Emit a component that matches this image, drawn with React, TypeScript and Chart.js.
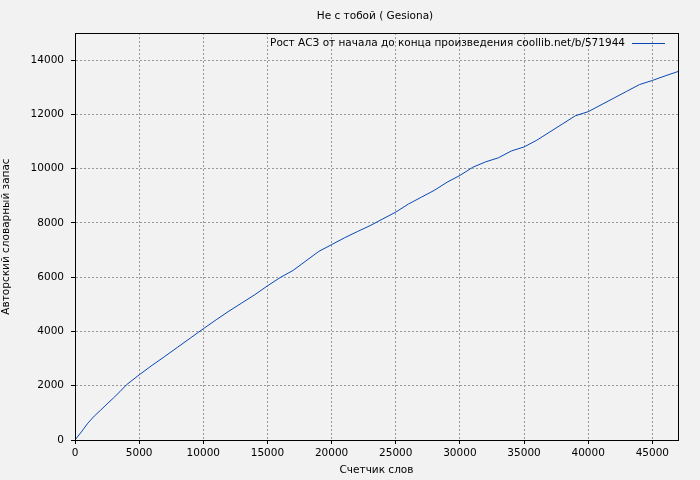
import React, { useEffect, useRef } from "react";
import { Chart, registerables } from "chart.js";

Chart.register(...registerables);

const TITLE = "Не с тобой ( Gesiona)";
const LEGEND = "Рост АСЗ от начала до конца произведения coollib.net/b/571944";
const X_TITLE = "Счетчик слов";
const Y_TITLE = "Авторский словарный запас";

const words = [0, 500, 1000, 1500, 2000, 2500, 3000, 3500, 4000, 5000, 6000, 7000, 8000, 9000, 10000, 11000, 12000, 13000, 14000, 15000, 16000, 17000, 18000, 19000, 20000, 21000, 22000, 23000, 24000, 25000, 26000, 27000, 28000, 29000, 30000, 31000, 32000, 33000, 34000, 35000, 36000, 37000, 38000, 39000, 40000, 41000, 42000, 43000, 44000, 45000, 46000, 47000];
const vocab = [0, 300, 620, 880, 1100, 1330, 1550, 1780, 2030, 2400, 2750, 3080, 3420, 3760, 4100, 4430, 4750, 5050, 5350, 5680, 5990, 6250, 6600, 6950, 7200, 7450, 7680, 7900, 8150, 8400, 8700, 8950, 9200, 9500, 9750, 10050, 10250, 10400, 10650, 10800, 11050, 11350, 11650, 11950, 12100, 12350, 12600, 12850, 13100, 13250, 13420, 13580];

const xTicks = [0, 5000, 10000, 15000, 20000, 25000, 30000, 35000, 40000, 45000];
const yTicks = [0, 2000, 4000, 6000, 8000, 10000, 12000, 14000];

const FONT = "DejaVu Sans";
const LINE_COLOR = "#0a47b5";

export default function App() {
  const ref = useRef<HTMLCanvasElement>(null);
  useEffect(() => {
    document.body.style.margin = "0";
    document.body.style.background = "#f2f2f2";
    const extras = {
      id: "extras",
      beforeDraw(chart: any) {
        const ctx = chart.ctx;
        ctx.save();
        ctx.fillStyle = "#f2f2f2";
        ctx.fillRect(0, 0, chart.width, chart.height);
        ctx.restore();
      },
      afterDraw(chart: any) {
        const ctx = chart.ctx;
        const a = chart.chartArea;
        ctx.save();
        ctx.strokeStyle = "#000";
        ctx.lineWidth = 1;
        ctx.strokeRect(Math.round(a.left) + 0.5, Math.round(a.top) + 0.5, Math.round(a.right - a.left), Math.round(a.bottom - a.top));
        ctx.fillStyle = "#000";
        ctx.font = `10.5px "${FONT}"`;
        ctx.textAlign = "center";
        ctx.textBaseline = "middle";
        ctx.fillText(TITLE, 375, 16);
        ctx.textAlign = "right";
        ctx.fillText(LEGEND, 625, 43);
        ctx.strokeStyle = LINE_COLOR;
        ctx.beginPath();
        ctx.moveTo(632, 43.5);
        ctx.lineTo(665, 43.5);
        ctx.stroke();
        ctx.restore();
      },
    };
    const chart = new Chart(ref.current!, {
      type: "scatter",
      data: {
        datasets: [
          {
            label: LEGEND,
            data: words.map((w, i) => ({ x: w, y: vocab[i] })),
            showLine: true,
            borderColor: LINE_COLOR,
            borderWidth: 1,
            pointRadius: 0,
            tension: 0,
          },
        ],
      },
      options: {
        animation: false,
        responsive: false,
        layout: { padding: { top: 33, right: 22, left: 0, bottom: 0 } },
        plugins: { legend: { display: false }, title: { display: false }, tooltip: { enabled: false } },
        scales: {
          x: {
            type: "linear",
            min: 0,
            max: 47000,
            afterBuildTicks: (s: any) => { s.ticks = xTicks.map((v) => ({ value: v })); },
            afterFit: (s: any) => { s.height = 40; },
            grid: { color: "#999", tickColor: "#000", tickLength: 4, tickBorderDash: [], lineWidth: 1 },
            border: { display: true, color: "#000", dash: [2, 2] },
            ticks: { color: "#000", font: { family: FONT, size: 10.5 }, padding: 3, maxRotation: 0, callback: (v: any) => String(v) },
            title: { display: true, text: X_TITLE, color: "#000", font: { family: FONT, size: 10.5 }, padding: { top: 0, bottom: 3 } },
          },
          y: {
            type: "linear",
            min: 0,
            max: 15000,
            afterBuildTicks: (s: any) => { s.ticks = yTicks.map((v) => ({ value: v })); },
            afterFit: (s: any) => { s.width = 75; },
            grid: { color: "#999", tickColor: "#000", tickLength: 4, tickBorderDash: [], lineWidth: 1 },
            border: { display: true, color: "#000", dash: [2, 2] },
            ticks: { color: "#000", font: { family: FONT, size: 10.5 }, padding: 7, callback: (v: any) => String(v) },
            title: { display: true, text: Y_TITLE, color: "#000", font: { family: FONT, size: 10.5 }, padding: { top: 0, bottom: 0 } },
          },
        },
      },
      plugins: [extras],
    } as any);
    return () => chart.destroy();
  }, []);
  return (
    <div style={{ position: "fixed", left: 0, top: 0, width: 700, height: 480 }}>
      <canvas ref={ref} width={700} height={480} style={{ width: 700, height: 480 }} />
    </div>
  );
}
